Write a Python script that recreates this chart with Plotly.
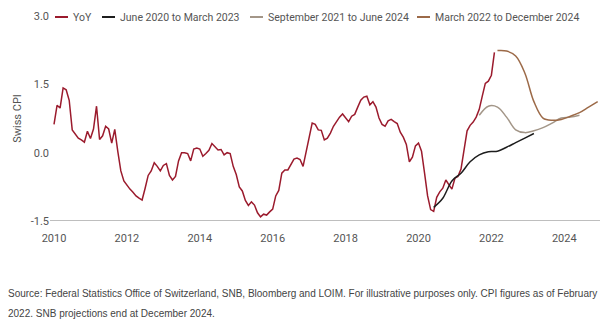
import plotly.graph_objects as go

# ---- data ----
yoy_start_year = 2010
yoy = [
    # 2010
    0.62, 1.04, 0.98, 1.42, 1.38, 1.15, 0.50, 0.42, 0.32, 0.28, 0.23, 0.47,
    # 2011
    0.31, 0.52, 1.02, 0.29, 0.37, 0.58, 0.52, 0.21, 0.51, 0.03, -0.40, -0.62,
    # 2012
    -0.72, -0.80, -0.87, -0.95, -1.00, -1.04, -0.78, -0.50, -0.40, -0.22, -0.30, -0.40,
    # 2013
    -0.28, -0.24, -0.50, -0.60, -0.52, -0.18, 0.00, 0.00, -0.02, -0.18, 0.08, 0.10,
    # 2014
    0.08, -0.08, -0.02, 0.05, 0.20, 0.12, 0.06, 0.07, -0.05, 0.00, -0.02, -0.30,
    # 2015
    -0.48, -0.75, -0.84, -1.05, -1.16, -1.08, -1.15, -1.32, -1.41, -1.35, -1.37, -1.30,
    # 2016
    -1.24, -0.95, -0.83, -0.45, -0.38, -0.38, -0.25, -0.14, -0.12, -0.15, -0.30, 0.00,
    # 2017
    0.28, 0.65, 0.62, 0.50, 0.49, 0.28, 0.32, 0.43, 0.58, 0.68, 0.78, 0.85,
    # 2018
    0.77, 0.68, 0.80, 0.84, 1.00, 1.15, 1.22, 1.24, 1.05, 1.12, 1.00, 0.76,
    # 2019
    0.62, 0.58, 0.70, 0.73, 0.68, 0.64, 0.45, 0.34, 0.18, -0.20, -0.10, 0.15,
    # 2020
    0.21, 0.03, -0.45, -0.95, -1.25, -1.29, -0.98, -0.86, -0.78, -0.60, -0.70, -0.80,
    # 2021
    -0.56, -0.52, -0.36, 0.10, 0.48, 0.60, 0.67, 0.78, 0.95, 1.24, 1.52, 1.57,
    # 2022
    1.70, 2.20,
]

# SNB conditional forecasts (quarterly, labelled by end-of-quarter month)
f2020_quarters = ["2020-06", "2020-09", "2020-12", "2021-03", "2021-06", "2021-09",
                  "2021-12", "2022-03", "2022-06", "2022-09", "2022-12", "2023-03"]
f2020_values = [-1.20, -1.00, -0.62, -0.45, -0.20, -0.05, 0.02, 0.03, 0.12, 0.22, 0.32, 0.42]

f2021_quarters = ["2021-09", "2021-12", "2022-03", "2022-06", "2022-09", "2022-12",
                  "2023-03", "2023-06", "2023-09", "2023-12", "2024-03", "2024-06"]
f2021_values = [0.82, 1.02, 1.00, 0.78, 0.50, 0.44, 0.48, 0.55, 0.65, 0.76, 0.78, 0.82]

f2022_quarters = ["2022-03", "2022-06", "2022-09", "2022-12", "2023-03", "2023-06",
                  "2023-09", "2023-12", "2024-03", "2024-06", "2024-09", "2024-12"]
f2022_values = [2.24, 2.23, 2.12, 1.75, 1.12, 0.76, 0.71, 0.73, 0.80, 0.88, 1.00, 1.12]

series_names = ["YoY", "June 2020 to March 2023", "September 2021 to June 2024",
                "March 2022 to December 2024"]
y_ticks = [-1.5, 0.0, 1.5, 3.0]
x_ticks = [2010, 2012, 2014, 2016, 2018, 2020, 2022, 2024]

footer1 = ("Source: Federal Statistics Office of Switzerland, SNB, Bloomberg and LOIM. "
           "For illustrative purposes only. CPI figures as of February")
footer2 = "2022. SNB projections end at December 2024."


def to_dec(ym):
    y, m = ym.split("-")
    return int(y) + (int(m) - 1) / 12.0


yoy_x = [yoy_start_year + i / 12.0 for i in range(len(yoy))]

# ---- styling ----
FONT = "Roboto, Liberation Sans, Arial, sans-serif"
TXT = "#555555"
FS = 11
FS_LEG = 10.5
colors = ["#9b1b2d", "#1e1e1e", "#a39688", "#9c6a48"]

fig = go.Figure()
fig.add_trace(go.Scatter(x=yoy_x, y=yoy, mode="lines", name=series_names[0],
                         line=dict(color=colors[0], width=1.5)))
fig.add_trace(go.Scatter(x=[to_dec(q) for q in f2020_quarters], y=f2020_values, mode="lines",
                         name=series_names[1], line=dict(color=colors[1], width=1.5, shape="spline")))
fig.add_trace(go.Scatter(x=[to_dec(q) for q in f2021_quarters], y=f2021_values, mode="lines",
                         name=series_names[2], line=dict(color=colors[2], width=1.5, shape="spline")))
fig.add_trace(go.Scatter(x=[to_dec(q) for q in f2022_quarters], y=f2022_values, mode="lines",
                         name=series_names[3], line=dict(color=colors[3], width=1.5, shape="spline")))

L, W, T, H = 50, 550, 16, 205

fig.update_layout(
    width=600, height=321,
    margin=dict(l=L, r=600 - L - W, t=T, b=321 - T - H),
    paper_bgcolor="white", plot_bgcolor="white",
    font=dict(family=FONT, size=FS, color=TXT),
    showlegend=False,
    xaxis=dict(range=[2009.89, 2024.98], tickvals=x_ticks, ticktext=[str(v) for v in x_ticks],
               showgrid=False, zeroline=False, showline=False, ticks="",
               ticklabelstandoff=9, tickfont=dict(family=FONT, size=FS, color=TXT)),
    yaxis=dict(range=[-1.5, 3.0], tickvals=y_ticks, ticktext=["%.1f" % v for v in y_ticks],
               showgrid=False, zeroline=False, showline=False, ticks="",
               tickfont=dict(family=FONT, size=FS, color=TXT),
               title=dict(text="Swiss CPI", font=dict(family=FONT, size=FS, color=TXT), standoff=6)),
)

# baseline axis line at -1.5
fig.add_shape(type="line", xref="paper", yref="y", x0=0, x1=1, y0=-1.5, y1=-1.5,
              line=dict(color="#7f7f7f", width=1.2), layer="below")

# custom legend (line sample + label), positioned in pixels converted to paper coords
legend_px = [55, 102, 250, 417]   # left edge of each sample line
sample_len = 13
leg_y_px = 17
for name, col, px in zip(series_names, colors, legend_px):
    py = 1 - (leg_y_px - T) / H
    fig.add_shape(type="line", xref="paper", yref="paper",
                  x0=(px - L) / W, x1=(px + sample_len - L) / W, y0=py, y1=py,
                  line=dict(color=col, width=2))
    fig.add_annotation(text=name, xref="paper", yref="paper",
                       x=(px + sample_len + 3 - L) / W, y=py, xanchor="left", yanchor="middle",
                       showarrow=False, font=dict(family=FONT, size=FS_LEG, color=TXT))

for txt, ypx in [(footer1, 293), (footer2, 313)]:
    fig.add_annotation(text=txt, xref="paper", yref="paper", x=(6 - L) / W, y=1 - (ypx - T) / H,
                       xanchor="left", yanchor="middle", showarrow=False,
                       font=dict(family="Liberation Sans, Arial, sans-serif", size=10, color="#444444"))

fig.write_html("out.html")
